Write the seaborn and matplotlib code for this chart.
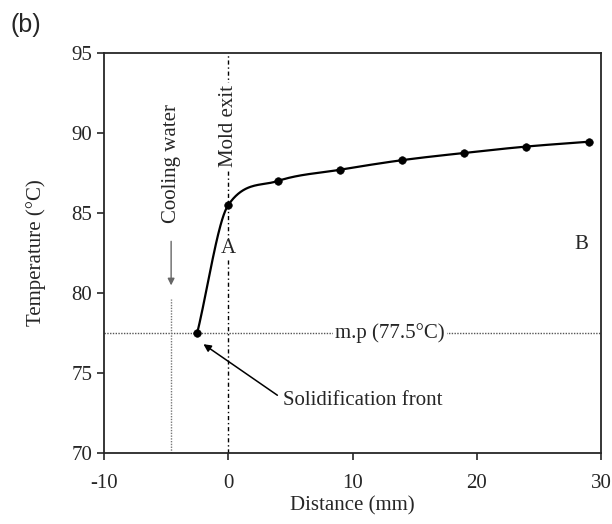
import numpy as np
import pandas as pd
import matplotlib
matplotlib.use('Agg')
import matplotlib.pyplot as plt
import seaborn as sns

# values
distance = [-2.5, 0, 4, 9, 14, 19, 24, 29]
temperature = [77.5, 85.5, 87.0, 87.7, 88.3, 88.75, 89.15, 89.45]
melting_point = 77.5
cooling_x = -4.6
mold_exit_x = 0

x_ticks = [-10, 0, 10, 20, 30]
y_ticks = [70, 75, 80, 85, 90, 95]


def smooth_curve(x, y, n=40):
    # cubic hermite through the measured points, tangents limited so it does not overshoot
    x = np.asarray(x, float)
    y = np.asarray(y, float)
    h = np.diff(x)
    d = np.diff(y) / h
    m = np.empty_like(y)
    m[0] = d[0]
    m[-1] = d[-1]
    for k in range(1, len(x) - 1):
        m[k] = min((d[k - 1] + d[k]) / 2, 3 * min(d[k - 1], d[k]))
    xs, ys = [], []
    for k in range(len(h)):
        t = np.linspace(0, 1, n, endpoint=(k == len(h) - 1))
        h00 = 2 * t**3 - 3 * t**2 + 1
        h10 = t**3 - 2 * t**2 + t
        h01 = -2 * t**3 + 3 * t**2
        h11 = t**3 - t**2
        xs.append(x[k] + t * h[k])
        ys.append(h00 * y[k] + h10 * h[k] * m[k] + h01 * y[k + 1] + h11 * h[k] * m[k + 1])
    return np.concatenate(xs), np.concatenate(ys)


sns.set_style('ticks')
plt.rcParams['font.family'] = ['Liberation Serif', 'DejaVu Serif']
plt.rcParams['axes.linewidth'] = 1.3
plt.rcParams['axes.unicode_minus'] = False

fs = 15

fig = plt.figure(figsize=(6.12, 5.24), dpi=100)
ax = fig.add_axes([0.170, 0.1355, 0.812, 0.7635])

# reference lines
ax.axhline(melting_point, color='#555555', linestyle=(0, (1, 1)), linewidth=1.0, zorder=1)
ax.plot([cooling_x, cooling_x], [70, 79.6], color='#777777', linestyle=(0, (1, 1)), linewidth=1.0, zorder=1)
ax.axvline(mold_exit_x, color='black', linestyle=(0, (3, 2, 1, 2)), linewidth=1.0, zorder=1)

sx, sy = smooth_curve(distance, temperature)
sns.lineplot(x=sx, y=sy, sort=False, estimator=None, color='black', linewidth=1.6, ax=ax, zorder=3)
sns.scatterplot(x=distance, y=temperature, color='black', s=30, edgecolor='black', ax=ax, zorder=4)

white = dict(facecolor='white', edgecolor='none', pad=1.5)
ax.text(13.0, melting_point, 'm.p (77.5\u00b0C)', fontsize=fs, ha='center', va='center', bbox=white, zorder=2)
ax.text(mold_exit_x, 90.45, 'Mold exit', fontsize=fs, rotation=90, ha='center', va='center', bbox=white, zorder=2)
ax.text(mold_exit_x, 82.75, 'A', fontsize=fs, ha='center', va='center', bbox=dict(facecolor='white', edgecolor='none', pad=0.5), zorder=2)
ax.text(28.4, 83.0, 'B', fontsize=fs, ha='center', va='center')
ax.text(cooling_x, 88.1, 'Cooling water', fontsize=fs, rotation=90, ha='center', va='center')
ax.annotate('', xy=(cooling_x, 80.3), xytext=(cooling_x, 83.4),
            arrowprops=dict(arrowstyle='-|>', color='#666666', lw=1.0, mutation_scale=10))
ax.annotate('Solidification front', xy=(-2.0, 76.8), xytext=(4.4, 73.25),
            fontsize=fs, ha='left', va='center',
            arrowprops=dict(arrowstyle='-|>', color='black', lw=1.1, mutation_scale=11,
                            shrinkA=2, shrinkB=0, relpos=(0, 0.6)))

ax.set_xlim(-10, 30)
ax.set_ylim(70, 95)
ax.set_xticks(x_ticks)
ax.set_yticks(y_ticks)
ax.tick_params(direction='out', length=5, width=1.2, labelsize=fs)
ax.tick_params(axis='x', pad=10)
ax.set_xlabel('Distance (mm)', fontsize=fs, labelpad=2.5)
ax.set_ylabel('Temperature (\u00b0C)', fontsize=fs, labelpad=18)
for s in ax.spines.values():
    s.set_visible(True)

fig.text(0.017, 0.952, '(b)', fontsize=18, family='Liberation Sans', ha='left', va='center')

fig.savefig('out.png', dpi=100)
